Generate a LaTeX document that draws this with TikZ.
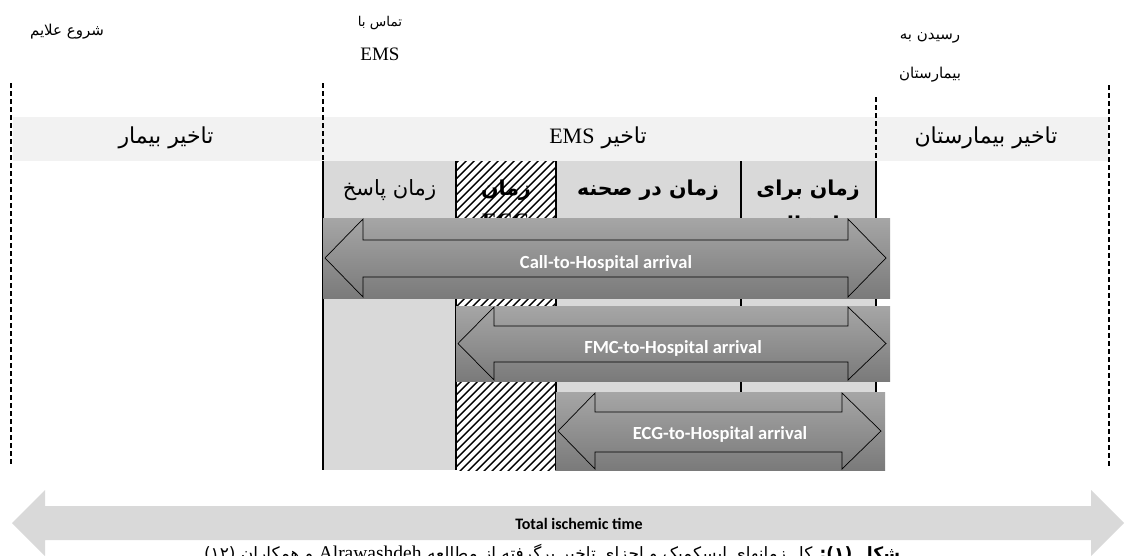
\documentclass[tikz,border=0pt]{standalone}
\usepackage{fontspec}
\setmainfont{Liberation Serif}
\newfontfamily\fa[Script=Arabic]{DejaVu Sans}
\newfontfamily\carlito{Carlito}
\TeXXeTstate=1
\definecolor{bandgray}{HTML}{F2F2F2}
\definecolor{colgray}{HTML}{D9D9D9}
\definecolor{arrtop}{HTML}{A6A6A6}
\definecolor{arrbot}{HTML}{7A7A7A}
\tikzset{
  dashv/.style={line width=1.8pt, dash pattern=on 5pt off 3pt},
  colborder/.style={line width=1.6pt},
  hatchline/.style={line width=1.4pt},
  arrbox/.style={top color=arrtop, bottom color=arrbot, draw=none},
  arroutline/.style={draw=black, line width=0.7pt},
  arrlabel/.style={font=\carlito\bfseries\fontsize{18.5}{21}\selectfont, text=white},
  toplabel/.style={font=\fa\fontsize{15}{18}\selectfont},
  bandlabel/.style={font=\fa\fontsize{22}{26}\selectfont},
  colhead/.style={font=\fa\fontsize{21}{25}\selectfont},
  colheadb/.style={font=\fa\bfseries\fontsize{20.5}{24}\selectfont},
}
\begin{document}
\begin{tikzpicture}[x=1pt,y=-1pt]
\useasboundingbox (0,0) rectangle (1134,555);
\fill[white] (0,0) rectangle (1134,555);
% band
\fill[bandgray] (13,117) rectangle (1108,161);
% columns
\fill[colgray] (323,161) rectangle (456,470);
\begin{scope}
  \clip (456,161) rectangle (556,470);
  \foreach \k in {0,...,52} {\draw[hatchline] (147+\k*8,472) -- ++(322,-322);}
\end{scope}
\fill[colgray] (556,161) rectangle (876,470);
% column headers (second lines are hidden under the arrows)
\node[colhead] (c1) at (389.5,190) {\beginR زمان پاسخ\endR};
\node[colheadb] (c2) at (506,190) {\beginR زمان\endR};
\node[font=\bfseries\fontsize{22}{24}\selectfont] (c2b) at (506,221) {ECG};
\node[colheadb] (c3) at (648,190) {\beginR زمان در صحنه\endR};
\node[colheadb] (c4) at (808,190) {\beginR زمان برای\endR};
\node[colheadb] (c4b) at (808,226) {\beginR انتقال\endR};
\draw[colborder] (323,161) -- (323,470);
\draw[colborder] (456,161) -- (456,470);
\draw[colborder] (556,161) -- (556,470);
\draw[colborder] (741,161) -- (741,470);
\draw[colborder] (876,161) -- (876,470);
% dashed lines
\draw[dashv] (11,83) -- (11,466);
\draw[dashv] (323,83) -- (323,161);
\draw[dashv] (876,97) -- (876,161);
\draw[dashv] (1109,85) -- (1109,466);
% top labels
\node[toplabel] (onset) at (67,32) {\beginR شروع علایم\endR};
\node[toplabel, font=\fa\fontsize{13.5}{16}\selectfont] (call1) at (380,23) {\beginR تماس با\endR};
\node[font=\fontsize{19}{21}\selectfont] (call2) at (380,54) {EMS};
\node[toplabel] (arr1) at (930,38) {\beginR رسیدن به\endR};
\node[toplabel] (arr2) at (930,75) {\beginR بیمارستان\endR};
% band labels
\node[bandlabel] (pd) at (166,138) {\beginR تاخیر بیمار\endR};
\node[bandlabel] (ed) at (598,138) {\beginR تاخیر \beginL{\rmfamily\fontsize{22}{24}\selectfont EMS}\endL\endR};
\node[bandlabel] (hd) at (986,138) {\beginR تاخیر بیمارستان\endR};
% Call arrow
\fill[arrbox] (323,218) rectangle (890,298);
\draw[arroutline] (325,258) -- (363,219) -- (363,240) -- (848,240) -- (848,219) -- (886,258) -- (848,297) -- (848,277) -- (363,277) -- (363,297) -- cycle;
\node[arrlabel] (callarr) at (606,263) {Call-to-Hospital arrival};
% FMC arrow
\fill[arrbox] (456,306) rectangle (890,381);
\draw[arroutline] (458,343.5) -- (494,307) -- (494,326) -- (848,326) -- (848,307) -- (886,343.5) -- (848,380) -- (848,362) -- (494,362) -- (494,380) -- cycle;
\node[arrlabel] (fmcarr) at (673,348) {FMC-to-Hospital arrival};
% ECG arrow
\fill[arrbox] (556,392) rectangle (885,470);
\draw[arroutline] (558,431) -- (595,393) -- (595,412) -- (842,412) -- (842,393) -- (881,431) -- (842,469) -- (842,452) -- (595,452) -- (595,469) -- cycle;
\node[arrlabel] (ecgarr) at (720,434) {ECG-to-Hospital arrival};
% Total ischemic arrow
\fill[colgray] (12,523) -- (45,490) -- (45,506) -- (1091,506) -- (1091,490) -- (1124,523) -- (1091,556) -- (1091,540) -- (45,540) -- (45,556) -- cycle;
\node[font=\carlito\bfseries\fontsize{16}{18}\selectfont] (total) at (579,524) {Total ischemic time};
% caption (cut by the lower edge, as in the reference)
\node[anchor=base, font=\fa\fontsize{17}{20}\selectfont] (cap) at (552,559) {\beginR{\bfseries شکل (۱):} کل زمانهای ایسکمیک و اجزای تاخیر برگرفته از مطالعه \beginL{\rmfamily\fontsize{19.5}{22}\selectfont Alrawashdeh}\endL{} و همکاران (۱۲)\endR};
\end{tikzpicture}
\end{document}
